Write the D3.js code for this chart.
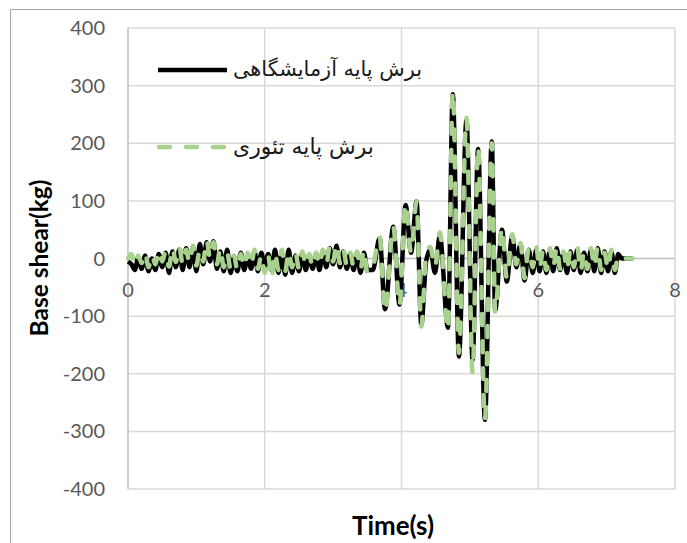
<!DOCTYPE html>
<html><head><meta charset="utf-8">
<script src="https://cdn.jsdelivr.net/npm/d3@7/dist/d3.min.js"></script>
<style>html,body{margin:0;padding:0;background:#fff;}svg{display:block;}</style>
</head><body>
<svg id="c" width="687" height="543"></svg>
<script>
// ---- data ----
const seriesNames = ["برش پایه آزمایشگاهی", "برش پایه تئوری"];
const xTicks = [0, 2, 4, 6, 8];
const yTicks = [-400, -300, -200, -100, 0, 100, 200, 300, 400];
const time = [0.00,0.05,0.10,0.15,0.20,0.25,0.30,0.35,0.40,0.45,0.50,0.55,0.60,0.65,0.70,0.75,0.80,0.85,0.90,0.95,
  1.00,1.05,1.10,1.15,1.20,1.25,1.30,1.35,1.40,1.45,1.50,1.55,1.60,1.65,1.70,1.75,1.80,1.85,1.90,1.95,
  2.00,2.05,2.10,2.15,2.20,2.25,2.30,2.35,2.40,2.45,2.50,2.55,2.60,2.65,2.70,2.75,2.80,2.85,2.90,2.95,
  3.00,3.05,3.10,3.15,3.20,3.25,3.30,3.35,3.40,3.45,3.50,3.58,3.68,3.76,3.88,3.97,4.06,4.14,4.22,4.29,
  4.36,4.42,4.49,4.56,4.68,4.75,4.84,4.95,5.04,5.12,5.22,5.32,5.37,5.47,5.54,5.62,5.68,5.74,5.80,5.86,
  5.92,5.97,6.02,6.07,6.12,6.17,6.22,6.27,6.32,6.37,6.42,6.47,6.52,6.57,6.62,6.67,6.72,6.77,6.82,6.87,
  6.92,6.97,7.02,7.07,7.12,7.17,7.22,7.38];
const experimental = [-5,-10,-20,2,-18,5,-22,0,-20,8,-15,10,-25,12,-15,15,-20,18,-15,20,
  -22,25,-10,28,-5,30,-18,12,-22,15,-25,2,-22,10,-20,5,-18,12,-22,10,
  -15,8,-20,15,-25,10,-28,15,-25,5,-22,10,-20,5,-18,8,-20,12,-15,18,
  -10,22,-15,12,-18,8,-20,10,-25,10,-20,-20,35,-88,55,-80,93,10,99,-115,
  -5,15,-25,40,-120,285,-170,240,-176,190,-280,203,-90,50,-40,40,-15,25,-38,15,
  -25,15,-22,12,-25,15,-22,18,-20,10,-25,12,-20,15,-25,10,-22,15,-22,18,
  -25,12,-22,12,-25,8,0,0];
const theoretical = [0,8,-12,5,-8,10,-15,6,-10,14,-5,12,-14,18,-6,20,-10,15,-8,22,
  -12,15,-5,32,0,28,-10,18,-15,10,-18,5,-20,8,-15,10,-12,15,-18,6,
  -25,5,-35,10,-20,15,-22,12,-15,10,-18,12,-12,8,-15,10,-12,15,-10,20,
  -5,25,-8,15,-12,10,-15,12,-20,15,-25,-15,38,-92,56,-82,95,10,99,-118,
  5,20,-15,45,-124,290,-164,244,-198,194,-280,200,-94,53,-34,42,-10,27,-34,18,
  -15,20,-18,15,-20,18,-15,20,-18,12,-20,15,-15,20,-22,12,-18,18,-15,20,
  -20,10,-18,15,-20,5,0,0];

// ---- layout ----
const svg = d3.select("#c");
const L = 128, R = 675, T = 28, B = 489;
const x = d3.scaleLinear().domain([0, 8]).range([L, R]);
const y = d3.scaleLinear().domain([-400, 400]).range([B, T]);
const font = "Lato, 'Open Sans', sans-serif";

function fitWidth(sel, base, target) {
  const len = sel.node().getComputedTextLength();
  if (len > 0) sel.attr("font-size", Math.max(10, Math.min(30, base * target / len)));
}

// outer chart border (only top/left visible)
svg.append("rect").attr("x", 10.5).attr("y", 9.5).attr("width", 800).attr("height", 700)
  .attr("fill", "none").attr("stroke", "#a6a6a6").attr("stroke-width", 1);

// gridlines
svg.append("g").selectAll("line").data(yTicks).join("line")
  .attr("x1", L).attr("x2", R).attr("y1", d => y(d)).attr("y2", d => y(d))
  .attr("stroke", d => d === 0 ? "#bfbfbf" : "#d9d9d9").attr("stroke-width", 1.5);
svg.append("g").selectAll("line").data(xTicks).join("line")
  .attr("x1", d => x(d)).attr("x2", d => x(d)).attr("y1", T).attr("y2", B)
  .attr("stroke", d => d === 0 ? "#bfbfbf" : "#d9d9d9").attr("stroke-width", 1.5);

// tick labels
svg.append("g").selectAll("text").data(yTicks).join("text")
  .attr("x", 105).attr("y", d => y(d)).attr("dy", "0.35em").attr("text-anchor", "end")
  .attr("font-family", font).attr("font-size", 20).attr("fill", "#595959").text(d => d);
svg.append("g").selectAll("text").data(xTicks).join("text")
  .attr("x", d => x(d)).attr("y", y(0) + 38).attr("text-anchor", "middle")
  .attr("font-family", font).attr("font-size", 20).attr("fill", "#595959").text(d => d);

// axis titles
const yTitle = svg.append("text").attr("transform", "translate(48," + 258 + ") rotate(-90)")
  .attr("text-anchor", "middle").attr("font-family", font).attr("font-weight", "bold")
  .attr("font-size", 20).attr("fill", "#000").text("Base shear(kg)");
fitWidth(yTitle, 20, 157);
const xTitle = svg.append("text").attr("x", 393).attr("y", 535).attr("text-anchor", "middle")
  .attr("font-family", font).attr("font-weight", "bold").attr("font-size", 20)
  .attr("fill", "#000").text("Time(s)");
fitWidth(xTitle, 20, 82);

// series
const expPts = time.map((t, i) => [t, experimental[i]]);
const thPts = time.map((t, i) => [t, theoretical[i]]);
const line = d3.line().x(d => x(d[0])).y(d => y(d[1])).curve(d3.curveMonotoneX);
svg.append("path").attr("d", line(expPts)).attr("fill", "none")
  .attr("stroke", "#000").attr("stroke-width", 4.5).attr("stroke-linejoin", "round");
svg.append("path").attr("d", line(thPts)).attr("fill", "none")
  .attr("stroke", "#a9d18e").attr("stroke-width", 4.5).attr("stroke-linecap", "round")
  .attr("stroke-dasharray", "11,16").attr("stroke-linejoin", "round");

// legend
const lg = svg.append("g");
lg.append("line").attr("x1", 158).attr("x2", 227).attr("y1", 70).attr("y2", 70)
  .attr("stroke", "#000").attr("stroke-width", 4.5);
lg.append("line").attr("x1", 159).attr("x2", 227).attr("y1", 147).attr("y2", 147)
  .attr("stroke", "#a9d18e").attr("stroke-width", 4.5).attr("stroke-linecap", "round")
  .attr("stroke-dasharray", "11,16");
const legendItems = [
  {name: seriesNames[0], cx: 327.5, yy: 70, w: 189},
  {name: seriesNames[1], cx: 303.5, yy: 147, w: 141}
];
legendItems.forEach(it => {
  const t = lg.append("text").attr("x", it.cx).attr("y", it.yy).attr("dy", "0.3em")
    .attr("text-anchor", "middle").attr("font-family", "'DejaVu Sans', 'Noto Sans', sans-serif")
    .attr("font-size", 20).attr("fill", "#1a1a1a").text(it.name);
  fitWidth(t, 20, it.w);
});
</script>
</body></html>
